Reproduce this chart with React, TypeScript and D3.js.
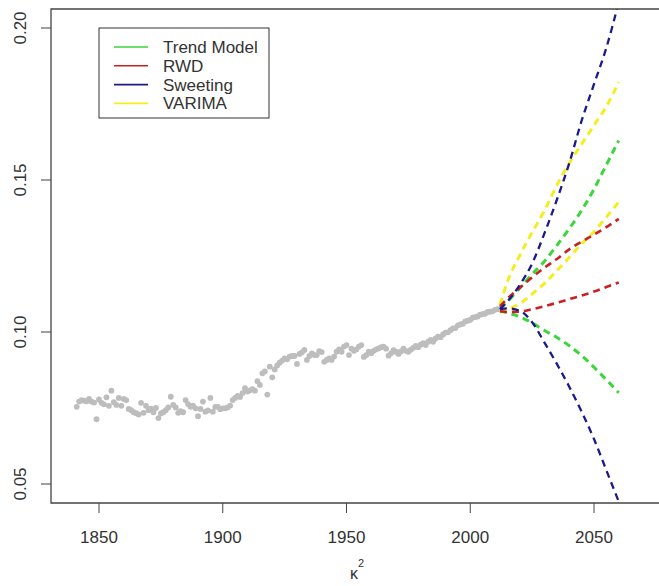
import React, { useEffect, useRef } from 'react';
import * as d3 from 'd3';

// observed kappa^2, one value per year 1841..2011
const obsStart = 1841;
const observed = [
  0.0754, 0.0771, 0.0776, 0.0774, 0.0772, 0.078, 0.0771, 0.0768, 0.0713, 0.0778,
  0.0767, 0.0762, 0.0785, 0.0757, 0.0807, 0.0769, 0.076, 0.0783, 0.0757, 0.078,
  0.0776, 0.0747, 0.0743, 0.0736, 0.0733, 0.0729, 0.0767, 0.0734, 0.0757, 0.0743,
  0.0748, 0.0736, 0.075, 0.0717, 0.0732, 0.0736, 0.0743, 0.0752, 0.0787, 0.076,
  0.0752, 0.0734, 0.074, 0.0736, 0.0776, 0.0763, 0.0754, 0.0758, 0.0749, 0.0723,
  0.0747, 0.0771, 0.0738, 0.0742, 0.0783, 0.0738, 0.0754, 0.0754, 0.0746, 0.0749,
  0.0749, 0.0752, 0.0758, 0.0776, 0.0783, 0.079, 0.0786, 0.0799, 0.0815, 0.0804,
  0.0808, 0.0812, 0.0807, 0.0838, 0.0826, 0.0864, 0.087, 0.0794, 0.0886, 0.0851,
  0.0877, 0.089, 0.0899, 0.0906, 0.0913, 0.091, 0.0919, 0.0921, 0.0921, 0.0895,
  0.0928, 0.0933, 0.0941, 0.0908, 0.0921, 0.093, 0.0924, 0.0924, 0.0937, 0.0934,
  0.0902, 0.0908, 0.0913, 0.0908, 0.0919, 0.0935, 0.0943, 0.0935, 0.0952, 0.0957,
  0.0924, 0.0945, 0.0938, 0.0943, 0.0952, 0.0957, 0.0918, 0.0924, 0.0935, 0.093,
  0.0938, 0.0943, 0.0946, 0.095, 0.0952, 0.0945, 0.0922, 0.093, 0.094, 0.0935,
  0.0928, 0.0936, 0.0945, 0.0938, 0.0935, 0.0942, 0.0948, 0.0954, 0.095, 0.0958,
  0.0963, 0.0957, 0.0968, 0.0974, 0.0968, 0.0979, 0.0985, 0.0983, 0.0992, 0.0998,
  0.0999, 0.1006, 0.1012, 0.1013, 0.1022, 0.1025, 0.1027, 0.1035, 0.1037, 0.1040,
  0.1047, 0.1049, 0.1051, 0.1057, 0.1059, 0.1060, 0.1066, 0.1067, 0.1068, 0.1073,
  0.1075,
];

const fcYears = [2012, 2015, 2020, 2025, 2030, 2035, 2040, 2045, 2050, 2055, 2060];

const trendUpper = [0.108, 0.11, 0.1145, 0.119, 0.1233, 0.1285, 0.134, 0.14, 0.147, 0.155, 0.163];
const trendLower = [0.107, 0.1063, 0.105, 0.103, 0.1005, 0.0982, 0.0955, 0.0922, 0.0884, 0.0843, 0.08];
const rwdUpper = [0.1085, 0.111, 0.1145, 0.118, 0.1212, 0.124, 0.1272, 0.1297, 0.132, 0.1345, 0.1372];
const rwdLower = [0.1068, 0.1066, 0.1067, 0.1075, 0.1085, 0.1096, 0.1108, 0.112, 0.1133, 0.1148, 0.1163];
const sweetUpper = [0.1075, 0.11, 0.1155, 0.1225, 0.1325, 0.1435, 0.1555, 0.1695, 0.1815, 0.1935, 0.2085];
const sweetLower = [0.1075, 0.1078, 0.107, 0.1032, 0.0965, 0.0895, 0.082, 0.0738, 0.0648, 0.0545, 0.0442];
const varimaUpper = [0.109, 0.1165, 0.1252, 0.1328, 0.14, 0.1483, 0.1555, 0.1618, 0.168, 0.1742, 0.1822];
const varimaLower = [0.1065, 0.1075, 0.1093, 0.1125, 0.116, 0.1202, 0.1245, 0.129, 0.133, 0.1378, 0.1428];

const legendLabels = ['Trend Model', 'RWD', 'Sweeting', 'VARIMA'];
const legendColors = ['#3ad63a', '#cc2020', '#1a1a8c', '#f2ee20'];

const xTicks = [1850, 1900, 1950, 2000, 2050];
const yTicks = [0.05, 0.1, 0.15, 0.2];

export default function App() {
  const svgRef = useRef<SVGSVGElement>(null);

  useEffect(() => {
    if (!svgRef.current) return;
    const svg = d3.select(svgRef.current);
    svg.selectAll('*').remove();

    const width = 659;
    const height = 586;
    const box = { left: 51, top: 9, right: 659, bottom: 503 };
    const font = '"Liberation Sans", Arial, sans-serif';
    const ink = '#333';

    const x = d3.scaleLinear().domain([1850, 2050]).range([99, 594]);
    const y = d3.scaleLinear().domain([0.05, 0.2]).range([484, 28]);

    svg.attr('width', width).attr('height', height);

    svg
      .append('defs')
      .append('clipPath')
      .attr('id', 'plot-clip')
      .append('rect')
      .attr('x', box.left)
      .attr('y', box.top)
      .attr('width', box.right - box.left)
      .attr('height', box.bottom - box.top);

    // observed points
    svg
      .append('g')
      .selectAll('circle')
      .data(observed)
      .join('circle')
      .attr('cx', (_, i) => x(obsStart + i))
      .attr('cy', (d) => y(d))
      .attr('r', 2.9)
      .attr('fill', '#bdbdbd');

    // forecast bands
    const series = [
      { vals: varimaUpper, color: legendColors[3], w: 3 },
      { vals: varimaLower, color: legendColors[3], w: 3 },
      { vals: trendUpper, color: legendColors[0], w: 3 },
      { vals: trendLower, color: legendColors[0], w: 3 },
      { vals: rwdUpper, color: legendColors[1], w: 2.6 },
      { vals: rwdLower, color: legendColors[1], w: 2.6 },
      { vals: sweetUpper, color: legendColors[2], w: 2.3 },
      { vals: sweetLower, color: legendColors[2], w: 2.3 },
    ];

    const line = d3
      .line<number>()
      .x((_, i) => x(fcYears[i]))
      .y((d) => y(d))
      .curve(d3.curveMonotoneX);

    const fc = svg.append('g').attr('clip-path', 'url(#plot-clip)');
    series.forEach((s) => {
      fc.append('path')
        .attr('d', line(s.vals))
        .attr('fill', 'none')
        .attr('stroke', s.color)
        .attr('stroke-width', s.w)
        .attr('stroke-dasharray', '7,5');
    });

    // box (right side cut off in the original)
    svg
      .append('path')
      .attr('d', `M${box.right},${box.top}H${box.left}V${box.bottom}H${box.right}`)
      .attr('fill', 'none')
      .attr('stroke', '#444')
      .attr('stroke-width', 1.3);

    // x axis
    xTicks.forEach((t) => {
      svg.append('line')
        .attr('x1', x(t)).attr('x2', x(t))
        .attr('y1', box.bottom).attr('y2', box.bottom + 10)
        .attr('stroke', '#444');
      svg.append('text')
        .attr('x', x(t))
        .attr('y', 543)
        .attr('text-anchor', 'middle')
        .attr('font-family', font)
        .attr('font-size', 17)
        .attr('fill', ink)
        .text(t);
    });

    // y axis
    yTicks.forEach((t) => {
      svg.append('line')
        .attr('x1', box.left - 10).attr('x2', box.left)
        .attr('y1', y(t)).attr('y2', y(t))
        .attr('stroke', '#444');
      svg.append('text')
        .attr('transform', `translate(26,${y(t)}) rotate(-90)`)
        .attr('text-anchor', 'middle')
        .attr('font-family', font)
        .attr('font-size', 17)
        .attr('fill', ink)
        .text(t.toFixed(2));
    });

    // x label
    const xl = svg.append('text')
      .attr('x', 357)
      .attr('y', 579)
      .attr('text-anchor', 'middle')
      .attr('font-family', font)
      .attr('font-size', 16)
      .attr('fill', ink);
    xl.append('tspan').text('κ');
    xl.append('tspan').attr('font-size', 11).attr('dy', -12).text('2');

    // legend
    const lg = svg.append('g').attr('transform', 'translate(99,28)');
    lg.append('rect')
      .attr('width', 170)
      .attr('height', 90)
      .attr('fill', '#fff')
      .attr('stroke', '#333')
      .attr('stroke-width', 1);
    legendLabels.forEach((lab, i) => {
      const ly = 19 + i * 18.8;
      lg.append('line')
        .attr('x1', 15).attr('x2', 49)
        .attr('y1', ly).attr('y2', ly)
        .attr('stroke', legendColors[i])
        .attr('stroke-width', 1.6);
      lg.append('text')
        .attr('x', 64)
        .attr('y', ly)
        .attr('dy', '0.35em')
        .attr('font-family', font)
        .attr('font-size', 17)
        .attr('fill', ink)
        .text(lab);
    });
  }, []);

  return (
    <svg ref={svgRef} style={{ position: 'absolute', left: 0, top: 0, background: '#fff' }}></svg>
  );
}
